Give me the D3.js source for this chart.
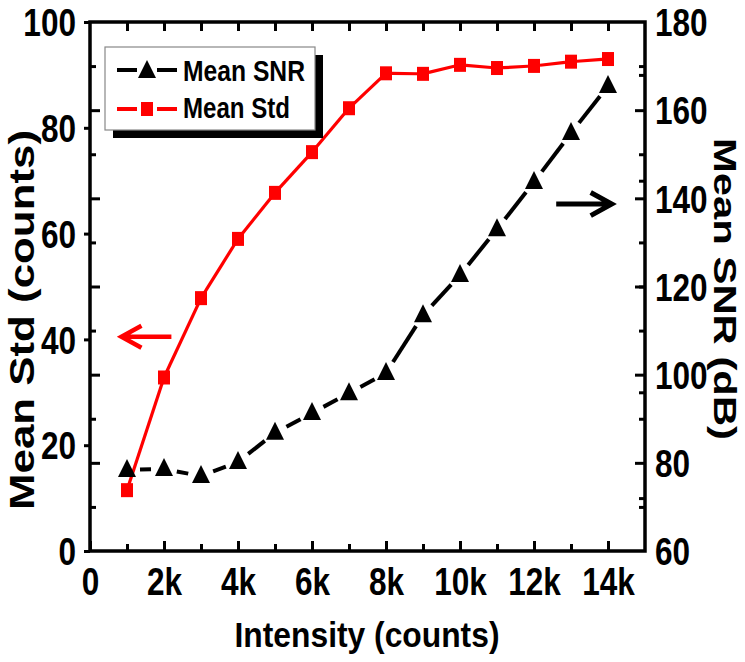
<!DOCTYPE html>
<html><head><meta charset="utf-8">
<script src="https://cdn.jsdelivr.net/npm/d3@7"></script>
<style>
body{margin:0;background:#fff}
text{font-family:"Liberation Sans",Arial,Helvetica,sans-serif;font-weight:bold;fill:#000}
</style>
</head><body>
<svg id="c" width="745" height="662"></svg>
<script>
// ---- data ----
const intensity = [1000,2000,3000,4000,5000,6000,7000,8000,9000,10000,11000,12000,13000,14000];
const meanStd   = [11.5,32.8,47.8,59.0,67.7,75.4,83.7,90.3,90.2,91.9,91.3,91.7,92.5,93.0];
const meanSNR   = [78.4,78.6,77.0,80.2,86.8,91.3,95.8,100.4,113.5,122.6,133.0,143.7,154.8,165.5];
const xMajorTicks = [0,2000,4000,6000,8000,10000,12000,14000];
const xTickLabels = ["0","2k","4k","6k","8k","10k","12k","14k"];
const xMinorTicks = [1000,3000,5000,7000,9000,11000,13000];
const leftTicks = [0,20,40,60,80,100];
const leftMinor = [10,30,50,70,90];
const rightTicks = [60,80,100,120,140,160,180];
const rightMinor = [70,90,110,130,150,170];
const seriesNames = ["Mean SNR","Mean Std"];

const svg = d3.select("#c");
const x = d3.scaleLinear().domain([0,15000]).range([90,645]);
const yL = d3.scaleLinear().domain([0,100]).range([551,22]);
const yR = d3.scaleLinear().domain([60,180]).range([551,22]);

function styleAxis(g){ g.select(".domain").remove(); g.selectAll(".tick line").attr("stroke","#000").attr("stroke-width",3); }

// bottom axis
const gb = svg.append("g").attr("transform","translate(0,551)")
  .call(d3.axisBottom(x).tickValues(xMajorTicks).tickFormat((d,i)=>xTickLabels[i]).tickSizeInner(-10).tickSizeOuter(0));
styleAxis(gb);
gb.selectAll("text").attr("y",44).attr("dy",null).attr("font-size",38).attr("class","sq").attr("fill","#000");
const gb2 = svg.append("g").attr("transform","translate(0,551)")
  .call(d3.axisBottom(x).tickValues(xMinorTicks).tickFormat("").tickSizeInner(-7).tickSizeOuter(0));
styleAxis(gb2);
// top axis
const gt = svg.append("g").attr("transform","translate(0,22)")
  .call(d3.axisTop(x).tickValues(xMinorTicks.concat(xMajorTicks.slice(1))).tickFormat("").tickSizeInner(-9).tickSizeOuter(0));
styleAxis(gt);
// left axis (labels, outward ticks)
const gl = svg.append("g").attr("transform","translate(90,0)")
  .call(d3.axisLeft(yL).tickValues(leftTicks).tickSizeInner(6).tickSizeOuter(0));
styleAxis(gl);
gl.selectAll("text").attr("x",-14).attr("dy","0.36em").attr("font-size",38).attr("class","sq").attr("fill","#000");
// left inward ticks (mirror of right scale)
const gl2 = svg.append("g").attr("transform","translate(90,0)")
  .call(d3.axisLeft(yR).tickValues(rightTicks.slice(1,-1)).tickFormat("").tickSizeInner(-10).tickSizeOuter(0));
styleAxis(gl2);
const gl3 = svg.append("g").attr("transform","translate(90,0)")
  .call(d3.axisLeft(yR).tickValues(rightMinor).tickFormat("").tickSizeInner(-6).tickSizeOuter(0));
styleAxis(gl3);
// right axis
const gr = svg.append("g").attr("transform","translate(645,0)")
  .call(d3.axisRight(yR).tickValues(rightTicks).tickSizeInner(-10).tickSizeOuter(0));
styleAxis(gr);
gr.selectAll("text").attr("x",10).attr("dy","0.36em").attr("font-size",38).attr("class","sq").attr("fill","#000");
gr.selectAll(".tick line").filter(d=>d===60||d===180).remove();
const gr2 = svg.append("g").attr("transform","translate(645,0)")
  .call(d3.axisRight(yR).tickValues(rightMinor).tickFormat("").tickSizeInner(-6).tickSizeOuter(0));
styleAxis(gr2);
const gr3 = svg.append("g").attr("transform","translate(645,0)")
  .call(d3.axisRight(yL).tickValues(leftMinor).tickFormat("").tickSizeInner(-6).tickSizeOuter(0));
styleAxis(gr3);

// frame
svg.append("rect").attr("x",x(0)).attr("y",yL(100)).attr("width",x(15000)-x(0)).attr("height",yL(0)-yL(100))
  .attr("fill","none").attr("stroke","#000").attr("stroke-width",3.5);

// segments with gaps
function segs(xs, ys, gap){
  const out=[];
  for(let i=0;i<xs.length-1;i++){
    const x0=xs[i],y0=ys[i],x1=xs[i+1],y1=ys[i+1];
    const dx=x1-x0,dy=y1-y0,L=Math.hypot(dx,dy); if(L<=2*gap) continue;
    const ux=dx/L,uy=dy/L;
    out.push([x0+ux*gap,y0+uy*gap,x1-ux*gap,y1-uy*gap]);
  }
  return out;
}
const stdX = intensity.map(x), stdY = meanStd.map(yL);
const snrX = intensity.map(x), snrY = meanSNR.map(yR);

svg.append("g").selectAll("line").data(segs(stdX,stdY,6)).join("line")
  .attr("x1",d=>d[0]).attr("y1",d=>d[1]).attr("x2",d=>d[2]).attr("y2",d=>d[3])
  .attr("stroke","#ff0000").attr("stroke-width",3.2);
svg.append("g").selectAll("line").data(segs(snrX,snrY,13)).join("line")
  .attr("x1",d=>d[0]).attr("y1",d=>d[1]).attr("x2",d=>d[2]).attr("y2",d=>d[3])
  .attr("stroke","#000").attr("stroke-width",4);

const tri = "M0,-11L9,7L-9,7Z";
svg.append("g").selectAll("rect").data(meanStd).join("rect")
  .attr("x",(d,i)=>x(intensity[i])-6).attr("y",d=>yL(d)-7).attr("width",12).attr("height",14).attr("fill","#ff0000");
svg.append("g").selectAll("path").data(meanSNR).join("path")
  .attr("d",tri).attr("transform",(d,i)=>`translate(${x(intensity[i])},${yR(d)})`).attr("fill","#000");

// arrows
function arrow(x0,x1,y,color,w,head){
  const s = Math.sign(x1-x0);
  svg.append("path").attr("d",`M${x0},${y}L${x1-s*2},${y}M${x1-s*head},${y-head*0.55}L${x1},${y}L${x1-s*head},${y+head*0.55}`)
    .attr("fill","none").attr("stroke",color).attr("stroke-width",w).attr("stroke-linejoin","miter");
}
arrow(x(2200), x(850), yL(40.5), "#ff0000", 4.5, 20);
arrow(x(12600), x(14100), yR(138.7), "#000", 5, 21);

// legend
const lg = svg.append("g");
lg.append("rect").attr("x",113).attr("y",55).attr("width",210).attr("height",83).attr("fill","#000");
lg.append("rect").attr("x",105).attr("y",47).attr("width",210).attr("height",83).attr("fill","#fff").attr("stroke","#888").attr("stroke-width",1.2);
const legY = [70,109], legC = ["#000","#ff0000"], legBase=[81,118], legW=[122,107];
seriesNames.forEach((n,i)=>{
  const gg = lg.append("g");
  gg.append("line").attr("x1",117).attr("x2",137).attr("y1",legY[i]).attr("y2",legY[i]).attr("stroke",legC[i]).attr("stroke-width",4);
  gg.append("line").attr("x1",157).attr("x2",177).attr("y1",legY[i]).attr("y2",legY[i]).attr("stroke",legC[i]).attr("stroke-width",4);
  if(i===0) gg.append("path").attr("d",tri).attr("transform",`translate(147,${legY[i]+1})`).attr("fill","#000");
  else gg.append("rect").attr("x",141).attr("y",legY[i]-7).attr("width",12).attr("height",14).attr("fill","#ff0000");
  gg.append("text").attr("x",183).attr("y",legBase[i]).attr("font-size",29).attr("textLength",legW[i]).attr("lengthAdjust","spacingAndGlyphs").text(n);
});

// axis titles
svg.append("text").attr("x",367).attr("y",647).attr("text-anchor","middle").attr("font-size",35)
  .attr("textLength",265).attr("lengthAdjust","spacingAndGlyphs").text("Intensity (counts)");
svg.append("text").attr("transform","translate(34,320) rotate(-90)").attr("text-anchor","middle").attr("font-size",35)
  .attr("textLength",380).attr("lengthAdjust","spacingAndGlyphs").text("Mean Std (counts)");
svg.append("text").attr("transform","translate(714,289) rotate(90)").attr("text-anchor","middle").attr("font-size",32)
  .attr("textLength",302).attr("lengthAdjust","spacingAndGlyphs").text("Mean SNR (dB)");

// horizontal squeeze of tick labels
svg.selectAll("text.sq").each(function(){
  const n = this.getComputedTextLength();
  d3.select(this).attr("textLength", n*0.83).attr("lengthAdjust","spacingAndGlyphs");
});
</script>
</body></html>
